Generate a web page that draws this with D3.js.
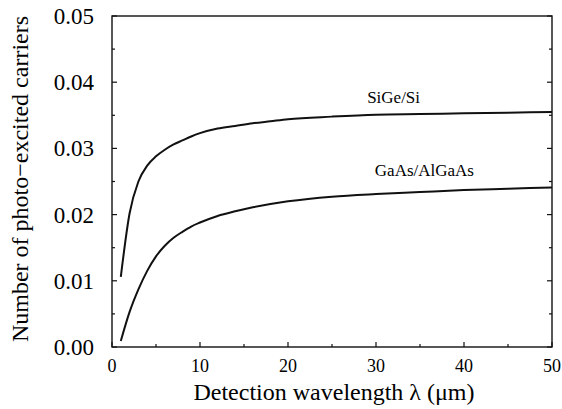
<!DOCTYPE html>
<html>
<head>
<meta charset="utf-8">
<script src="https://cdn.jsdelivr.net/npm/d3@7"></script>
<style>
  body { margin: 0; background: #fff; }
</style>
</head>
<body>
<svg id="chart" width="562" height="409"></svg>
<script>
// wavelength (um) sample points
const wavelength = [1, 2, 3, 4, 5, 6, 7, 8, 9, 10, 12, 14, 16, 18, 20, 25, 30, 35, 40, 45, 50];
const sigeSi = [0.0106, 0.0202, 0.0250, 0.0274, 0.0288, 0.0298, 0.0306, 0.0312, 0.0318, 0.0323, 0.0330, 0.0334, 0.0338, 0.0341, 0.0344, 0.0348, 0.0351, 0.0352, 0.0353, 0.0354, 0.0355];
const gaasAlgaas = [0.0009, 0.0053, 0.0087, 0.0115, 0.0137, 0.0153, 0.0165, 0.0174, 0.0182, 0.0188, 0.0198, 0.0205, 0.0211, 0.0216, 0.0220, 0.0227, 0.0231, 0.0234, 0.0237, 0.0239, 0.0241];
const xTicks = [0, 10, 20, 30, 40, 50];
const yTicks = [0, 0.01, 0.02, 0.03, 0.04, 0.05];

const serif = 'Liberation Serif';

const svg = d3.select('#chart');
const margin = { top: 16, right: 10, bottom: 62, left: 112 };
const width = 562 - margin.left - margin.right;
const height = 409 - margin.top - margin.bottom;

const x = d3.scaleLinear().domain([0, 50]).range([0, width]);
const y = d3.scaleLinear().domain([0, 0.05]).range([height, 0]);

const g = svg.append('g').attr('transform', `translate(${margin.left},${margin.top})`);

// frame
g.append('rect')
  .attr('width', width)
  .attr('height', height)
  .attr('fill', 'none')
  .attr('stroke', '#111')
  .attr('stroke-width', 1.4);

// inward ticks: major + minor, on left/right and bottom
const yMinor = d3.range(0.005, 0.05, 0.01);
const xMinor = d3.range(5, 50, 10);

function yTick(v, len) {
  g.append('line').attr('x1', 0).attr('x2', len).attr('y1', y(v)).attr('y2', y(v))
    .attr('stroke', '#111').attr('stroke-width', 1.2);
  g.append('line').attr('x1', width).attr('x2', width - len).attr('y1', y(v)).attr('y2', y(v))
    .attr('stroke', '#111').attr('stroke-width', 1.2);
}
yTicks.forEach((v) => yTick(v, 5));
yMinor.forEach((v) => yTick(v, 3));

function xTick(v, len) {
  g.append('line').attr('x1', x(v)).attr('x2', x(v)).attr('y1', height).attr('y2', height - len)
    .attr('stroke', '#111').attr('stroke-width', 1.2);
}
xTicks.forEach((v) => xTick(v, 5));
xMinor.forEach((v) => xTick(v, 3));

// tick labels
g.selectAll('text.ylab')
  .data(yTicks)
  .join('text')
  .attr('class', 'ylab')
  .attr('x', -18)
  .attr('y', (d) => y(d) + 8)
  .attr('text-anchor', 'end')
  .style('font-family', serif)
  .attr('font-size', 23)
  .text((d) => d.toFixed(2));

g.selectAll('text.xlab')
  .data(xTicks)
  .join('text')
  .attr('class', 'xlab')
  .attr('x', (d) => x(d))
  .attr('y', height + 25)
  .attr('text-anchor', 'middle')
  .style('font-family', serif)
  .attr('font-size', 18)
  .text((d) => d);

// axis titles
g.append('text')
  .attr('x', width / 2 + 2)
  .attr('y', height + 53)
  .attr('text-anchor', 'middle')
  .style('font-family', serif)
  .attr('font-size', 24)
  .text('Detection wavelength λ (μm)');

svg.append('text')
  .attr('transform', 'translate(28,179) rotate(-90)')
  .attr('text-anchor', 'middle')
  .style('font-family', serif)
  .attr('font-size', 24)
  .text('Number of photo−excited carriers');

// curves
const line = d3.line()
  .x((d) => x(d[0]))
  .y((d) => y(d[1]))
  .curve(d3.curveMonotoneX);

[sigeSi, gaasAlgaas].forEach((series) => {
  g.append('path')
    .datum(wavelength.map((w, i) => [w, series[i]]))
    .attr('fill', 'none')
    .attr('stroke', '#111')
    .attr('stroke-width', 2)
    .attr('d', line);
});

// series labels
g.append('text')
  .attr('x', x(32))
  .attr('y', y(0.0369))
  .attr('text-anchor', 'middle')
  .style('font-family', serif)
  .attr('font-size', 17)
  .text('SiGe/Si');

g.append('text')
  .attr('x', x(35.5))
  .attr('y', y(0.0258))
  .attr('text-anchor', 'middle')
  .style('font-family', serif)
  .attr('font-size', 17)
  .text('GaAs/AlGaAs');
</script>
</body>
</html>
